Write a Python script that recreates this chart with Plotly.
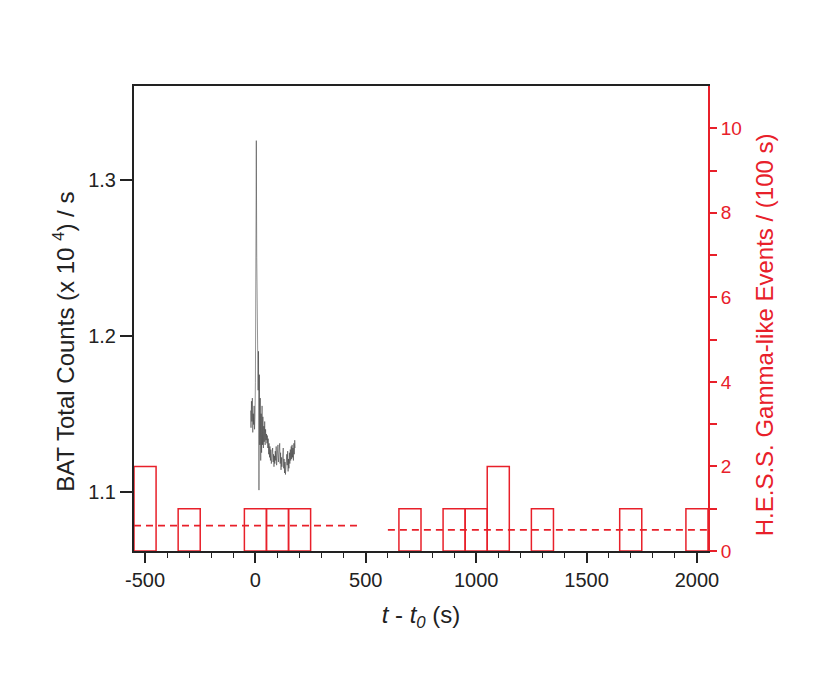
import plotly.graph_objects as go

RED = "#e8202a"
FONT = "Liberation Sans, Arial, sans-serif"

# BAT light curve (x 10^4 counts / s)
bat_time = [-22, -20, -18, -16, -14, -12, -10, -8, -6, -4, -2,
            0, 2, 4, 6, 8, 10, 12, 14, 16, 18, 20, 22, 24, 26, 28, 30,
            32, 34, 36, 38, 40, 42, 44, 46, 48, 50, 52, 54, 56, 58, 60,
            62, 64, 66, 68, 70, 72, 74, 76, 78, 80, 82, 84, 86, 88, 90,
            92, 94, 96, 98, 100, 102, 104, 106, 108, 110, 112, 114, 116, 118, 120,
            122, 124, 126, 128, 130, 132, 134, 136, 138, 140, 142, 144, 146, 148, 150,
            152, 154, 156, 158, 160, 162, 164, 166, 168, 170, 172, 174, 176, 178, 180]
bat_rate = [1.152, 1.141, 1.158, 1.145, 1.160, 1.138, 1.150, 1.143, 1.155, 1.140, 1.148,
            1.170, 1.240, 1.325, 1.250, 1.200, 1.235, 1.165, 1.190, 1.101, 1.175, 1.130, 1.160, 1.120, 1.150, 1.125, 1.155,
            1.130, 1.148, 1.128, 1.142, 1.132, 1.145, 1.130, 1.140, 1.133, 1.137, 1.131, 1.136, 1.128, 1.134, 1.124,
            1.131, 1.122, 1.129, 1.120, 1.127, 1.118, 1.125, 1.121, 1.128, 1.119, 1.124, 1.116, 1.123, 1.118, 1.126,
            1.120, 1.129, 1.117, 1.124, 1.121, 1.130, 1.119, 1.127, 1.122, 1.131, 1.118, 1.125, 1.114, 1.122, 1.116,
            1.124, 1.120, 1.128, 1.115, 1.121, 1.112, 1.119, 1.111, 1.120, 1.114, 1.124, 1.117, 1.126, 1.113, 1.121,
            1.115, 1.125, 1.118, 1.127, 1.120, 1.129, 1.121, 1.130, 1.122, 1.128, 1.120, 1.131, 1.124, 1.133, 1.128]

# H.E.S.S. gamma-like events per 100 s bin (bin centres, non-empty bins)
hess_bin = [-500, -300, 0, 100, 200, 700, 900, 1000, 1100, 1300, 1700, 2000]
hess_counts = [2, 1, 1, 1, 1, 1, 1, 1, 2, 1, 1, 1]

# mean event rate of each observation run
run_start = [-550, 600]
run_end = [460, 2050]
run_mean = [0.6, 0.5]

x_ticks = [-500, 0, 500, 1000, 1500, 2000]
x_ticktext = ["-500", "0", "500", "1000", "1500", "2000"]

fig = go.Figure()

fig.add_trace(go.Scatter(
    x=bat_time, y=bat_rate, mode="lines",
    line=dict(color="rgba(40,40,40,0.7)", width=0.7),
    yaxis="y", showlegend=False,
))

fig.add_trace(go.Bar(
    x=hess_bin, y=hess_counts, width=100,
    marker=dict(color="rgba(0,0,0,0)", line=dict(color=RED, width=1.5)),
    yaxis="y2", showlegend=False,
))

for x0, x1, m in zip(run_start, run_end, run_mean):
    fig.add_trace(go.Scatter(
        x=[x0, x1], y=[m, m], mode="lines",
        line=dict(color=RED, width=1.6, dash="7px,5px"),
        yaxis="y2", showlegend=False,
    ))

fig.update_layout(
    width=830, height=680,
    margin=dict(l=126, r=130, t=78, b=137),
    paper_bgcolor="white", plot_bgcolor="white",
    font=dict(family=FONT, size=20, color="#222"),
    xaxis=dict(
        range=[-550, 2050], tickvals=x_ticks, ticktext=x_ticktext,
        ticks="outside", ticklen=10, tickwidth=1.5, tickcolor="#222",
        minor=dict(dtick=100, tick0=0, ticks="outside", ticklen=5, tickwidth=1.2, tickcolor="#222"),
        showline=True, linecolor="#222", linewidth=2, mirror=True,
        showgrid=False, zeroline=False,
        tickfont=dict(size=20),
        title=dict(text="<i>t</i> - <i>t<sub>0</sub></i> (s)", font=dict(size=24), standoff=16),
    ),
    yaxis=dict(
        range=[1.062, 1.36], tickvals=[1.1, 1.2, 1.3],
        ticks="outside", ticklen=12, tickwidth=1.5, tickcolor="#222",
        showline=True, linecolor="#222", linewidth=2,
        showgrid=False, zeroline=False,
        tickfont=dict(size=20),
    ),
    yaxis2=dict(
        range=[0, 11], overlaying="y", side="right",
        tickvals=[0, 2, 4, 6, 8, 10],
        ticks="outside", ticklen=7, tickwidth=1.5, tickcolor=RED,
        minor=dict(tickvals=[1, 3, 5, 7, 9], ticks="outside", ticklen=7, tickwidth=1.5, tickcolor=RED),
        showline=True, linecolor=RED, linewidth=2,
        showgrid=False, zeroline=False,
        tickfont=dict(color=RED, size=19),
    ),
)

# axis titles as annotations: both sit a little below the plot's mid-height
fig.add_annotation(
    text="BAT Total Counts (x 10 <sup>4</sup>) / s", textangle=-90,
    xref="paper", yref="paper", x=-0.122, y=0.45,
    xanchor="center", yanchor="middle", showarrow=False,
    font=dict(size=24, color="#222"),
)
fig.add_annotation(
    text="H.E.S.S. Gamma-like Events / (100 s)", textangle=-90,
    xref="paper", yref="paper", x=1.0976, y=0.464,
    xanchor="center", yanchor="middle", showarrow=False,
    font=dict(size=24, color=RED),
)

fig.write_html("out.html")
